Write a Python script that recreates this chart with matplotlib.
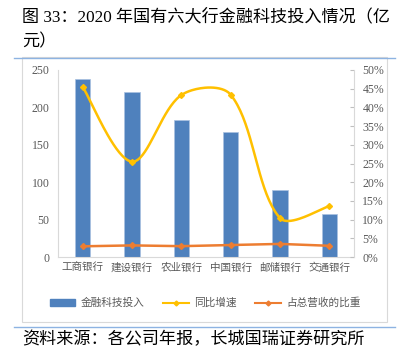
import matplotlib
matplotlib.use("Agg")
import matplotlib.pyplot as plt
from matplotlib.patches import Rectangle
from matplotlib.lines import Line2D
import numpy as np

# 数据
banks = ["工商银行", "建设银行", "农业银行", "中国银行", "邮储银行", "交通银行"]
invest = [238, 221, 183, 167, 90, 57]          # 金融科技投入 (亿元)
growth = [45.5, 25.5, 43.3, 43.4, 10.4, 13.6]  # 同比增速 (%)
share = [2.86, 3.1, 2.9, 3.2, 3.5, 3.0]        # 占总营收的比重 (%)

BLUE = "#4F81BD"
YELLOW = "#FFC000"
ORANGE = "#ED7D31"
GRAY = "#595959"
CJK = ["Noto Sans CJK SC", "DejaVu Sans"]
NUM = ["Liberation Serif", "Noto Sans CJK SC"]

plt.rcParams["font.family"] = CJK

W, H = 399, 354
fig = plt.figure(figsize=(W / 100, H / 100), dpi=100)


def fx(px):
    return px / W


def fy(py):
    return 1 - py / H


def smooth(xs, ys, sx=49.3, sy=3.74, n=40):
    # 类似 Excel 平滑线：按弦长缩放控制点的贝塞尔曲线（在像素空间计算）
    P = np.column_stack([np.asarray(xs, float) * sx, np.asarray(ys, float) * sy])
    m = len(P)
    L = np.linalg.norm(np.diff(P, axis=0), axis=1)
    out = []
    t = np.linspace(0, 1, n)[:, None]
    for i in range(m - 1):
        p0, p3 = P[i], P[i + 1]
        if i == 0:
            c1 = p0 + (p3 - p0) / 3 * 0.5
        else:
            d = P[i + 1] - P[i - 1]
            c1 = p0 + d * L[i] / (L[i - 1] + L[i]) / 3
        if i + 1 == m - 1:
            c2 = p3 - (p3 - p0) / 3 * 0.5
        else:
            d = P[i + 2] - P[i]
            c2 = p3 - d * L[i] / (L[i] + L[i + 1]) / 3
        seg = ((1 - t) ** 3 * p0 + 3 * (1 - t) ** 2 * t * c1
               + 3 * (1 - t) * t ** 2 * c2 + t ** 3 * p3)
        out.append(seg)
    out = np.vstack(out)
    return out[:, 0] / sx, out[:, 1] / sy


# 标题
fig.text(fx(22), fy(17), "图 33：2020 年国有六大行金融科技投入情况（亿",
         fontsize=12.3, family=NUM, va="center", ha="left", color="black")
fig.text(fx(22), fy(42), "元）", fontsize=12.3, family=NUM, va="center",
         ha="left", color="black")

# 分隔线
fig.add_artist(Line2D([fx(14), fx(395)], [fy(58), fy(58)], color="#8DB3E2", lw=1))
fig.add_artist(Line2D([fx(14), fx(395)], [fy(327), fy(327)], color="#8DB3E2", lw=1))

# 图表外框
fig.add_artist(Rectangle((fx(22), fy(322)), fx(387) - fx(22), fy(57) - fy(322),
                         transform=fig.transFigure, fill=False,
                         edgecolor="#D9D9D9", lw=0.8))

ax = fig.add_axes([fx(58), fy(257), fx(354) - fx(58), fy(70) - fy(257)])
x = np.arange(len(banks))
ax.bar(x, invest, width=0.31, color=BLUE, edgecolor="#A9C1E0", linewidth=0.5,
       zorder=2)
ax.set_xlim(-0.5, len(banks) - 0.5)
ax.set_ylim(0, 250)
ax.set_yticks(range(0, 251, 50))
ax.set_yticklabels([str(v) for v in range(0, 251, 50)], family=NUM,
                   fontsize=8.5, color=GRAY)
ax.set_xticks(x)
ax.set_xticklabels(banks, fontsize=7.6, color=GRAY)
ax.tick_params(axis="both", length=0, pad=4)
ax.tick_params(axis="y", pad=6)
for s in ["top", "right"]:
    ax.spines[s].set_visible(False)
ax.spines["left"].set_color("#D9D9D9")
ax.spines["bottom"].set_color("#D9D9D9")

ax2 = ax.twinx()
cx, cy = smooth(x, growth)
ax2.plot(cx, cy, color=YELLOW, lw=1.8, zorder=3)
ax2.plot(x, growth, ls="none", marker="D", ms=3, color=YELLOW, zorder=4)
ax2.plot(x, share, color=ORANGE, lw=1.8, marker="D", ms=3, zorder=3)
ax2.set_ylim(0, 50)
ax2.set_yticks(range(0, 51, 5))
ax2.set_yticklabels([f"{v}%" for v in range(0, 51, 5)], family=NUM,
                    fontsize=8.5, color=GRAY)
ax2.tick_params(axis="y", direction="in", length=3, color="#BFBFBF", pad=6)
for s in ["top", "left", "bottom"]:
    ax2.spines[s].set_visible(False)
ax2.spines["right"].set_color("#D9D9D9")

# 图例
handles = [
    Rectangle((0, 0), 1, 1, color=BLUE),
    Line2D([], [], color=YELLOW, lw=1.5, marker="D", ms=2.5),
    Line2D([], [], color=ORANGE, lw=1.5, marker="D", ms=2.5),
]
fig.legend(handles, ["金融科技投入", "同比增速", "占总营收的比重"],
           loc="center", bbox_to_anchor=(fx(205), fy(303)), ncol=3,
           frameon=False, fontsize=7.7, labelcolor=GRAY, handlelength=2.4,
           handleheight=0.6, columnspacing=1.8, handletextpad=0.45)

# 资料来源
fig.text(fx(22), fy(339), "资料来源：各公司年报，长城国瑞证券研究所",
         fontsize=12.3, va="center", ha="left", color="black")

fig.savefig("out.png", dpi=100)
